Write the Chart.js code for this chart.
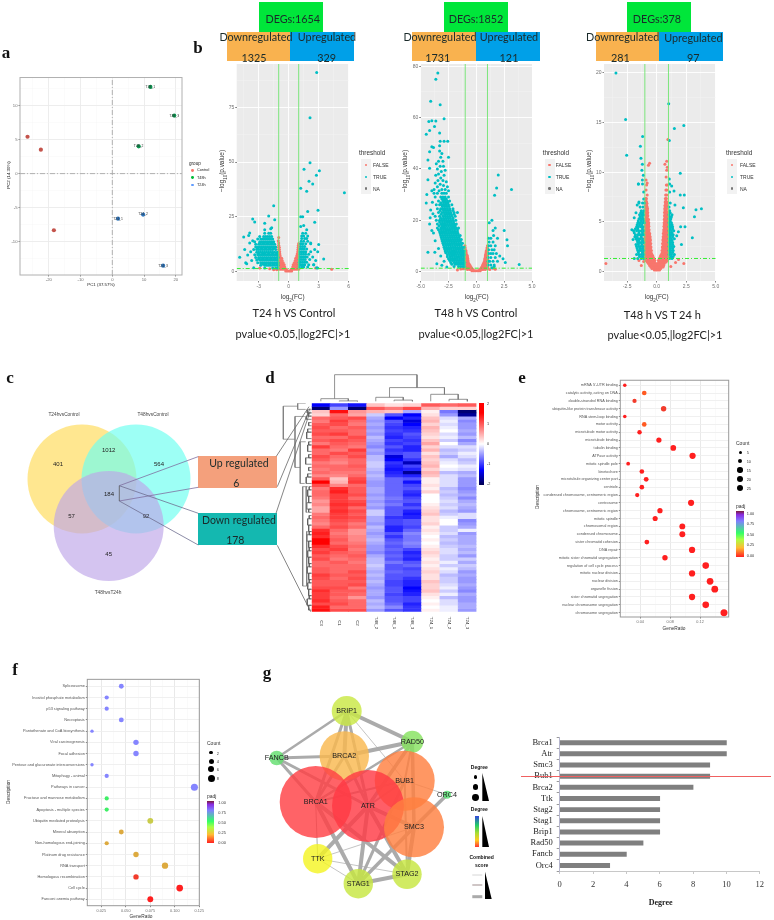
<!DOCTYPE html>
<html>
<head>
<meta charset="utf-8">
<script src="https://cdn.jsdelivr.net/npm/chart.js@4/dist/chart.umd.min.js"></script>
<style>
  html, body { margin: 0; padding: 0; background: #fff; }
  #page { position: relative; width: 774px; height: 920px; overflow: hidden; }
  #page canvas { position: absolute; }
  .t { position: absolute; white-space: nowrap; transform: translate(-50%, -50%); z-index: 6; }
  .b { position: absolute; z-index: 4; }
  sub { font-size: 70%; line-height: 0; }
</style>
</head>
<body>
<div id="page"></div>
<script>
const SANS = "'Liberation Sans', Arial, sans-serif";
const SERIF = "'Liberation Serif', serif";
const CAL = "Lato, 'Open Sans', sans-serif";

// a: PCA
const pcaControlX = [-26.7, -22.5, -18.4];
const pcaControlY = [5.4, 3.5, -8.3];
const pcaT48X = [12, 19.5, 8.3];
const pcaT48Y = [12.7, 8.5, 4];
const pcaT24X = [1.8, 9.7, 16];
const pcaT24Y = [-6.6, -6, -13.5];
const pcaT48Labels = ["T48_1", "T48_3", "T48_2"];
const pcaT24Labels = ["T24_1", "T24_2", "T24_3"];

// b: volcano, rows are [y, x, x, x...] for the dense clouds
const t24TrueRows = [
  [1.6,-2.4,-1.6,-1.3,-1.1],
  [2.8,-2.8,-2.4,-2.2,-2,-1.8,-1.6,-1.4,-1.2,-1.05],
  [3.4,-2.6,-2.3,-1.9,-1.5,-1.15],
  [4,-3.1,-2.8,-2.6,-2.4,-2.2,-2,-1.8,-1.6,-1.4,-1.2,-1.05],
  [5.2,-3.2,-2.9,-2.7,-2.5,-2.3,-2.1,-1.9,-1.7,-1.5,-1.3,-1.1],
  [5.8,-3,-2.6,-2.2,-1.8,-1.4],
  [6.4,-3.3,-3,-2.8,-2.6,-2.4,-2.2,-2,-1.8,-1.6,-1.4,-1.2,-1.05],
  [7.6,-3.4,-3.1,-2.9,-2.7,-2.5,-2.3,-2.1,-1.9,-1.7,-1.5,-1.3,-1.1],
  [8.2,-3,-2.6,-2.4,-2,-1.6,-1.2],
  [8.8,-3.2,-3,-2.8,-2.6,-2.4,-2.2,-2,-1.8,-1.6,-1.4,-1.15],
  [10,-3.5,-3.2,-3,-2.8,-2.6,-2.4,-2.2,-2,-1.8,-1.6,-1.3],
  [10.6,-3.1,-2.7,-2.3,-1.9,-1.5],
  [11.2,-3.3,-3.1,-2.9,-2.7,-2.5,-2.3,-2.1,-1.9,-1.7,-1.5,-1.3],
  [12.4,-3.3,-3,-2.8,-2.6,-2.4,-2.2,-2,-1.8,-1.6,-1.4],
  [13,-2.9,-2.5,-2.1,-1.7],
  [13.6,-3.4,-2.9,-2.7,-2.5,-2.3,-2.1,-1.9,-1.7,-1.5],
  [14.8,-3.1,-2.8,-2.6,-2.4,-2.2,-2,-1.8,-1.6],
  [16,-2.9,-2.5,-2.3,-2.1,-1.9,-1.7],
  [17.5,-2.4,-2,-1.8],
  [2,1.05,1.3,1.5,1.9],
  [3,1.05,1.2,1.4,1.6,2,2.5],
  [4.2,1.05,1.2,1.4,1.6,1.8],
  [5.4,1.05,1.25,1.45,1.65,2.1],
  [6.6,1.1,1.25,1.45,1.65,1.85,2.4],
  [7.8,1.1,1.3,1.5,1.7,2],
  [9,1.1,1.3,1.5,1.7,2.2],
  [10.2,1.15,1.35,1.55,1.8],
  [11.4,1.2,1.4,1.6],
  [12.6,1.2,1.4,1.7,2.2],
  [13.8,1.25,1.5,1.9],
  [15,1.3,1.6,1.8],
  [16.2,1.3,1.5,1.9],
  [17.5,1.4,1.7]
];
const t24TrueScatter = [[2.8,91],[2.13,70.3],[2.13,49.7],[1.53,46.7],[3.07,46],[2.77,44],[2.4,40],[2.03,41.3],[1.2,38],[1.8,36.7],[5.57,36],[2.93,28],[1.9,27.4],[1.2,25],[1.4,25],[2.6,22.5],[1.2,20.5],[1.5,21],[1.8,19],[3,12.3],[2.6,10],[2.2,13],[2.9,9],[3.5,5.7],[2.7,5],[2.5,3],[2.8,1.7],[2.9,1.6],[-1.5,30],[-2,25.4],[-3.6,24],[-3.4,22.6],[-2.4,22],[-1.4,23.6],[-4.5,15.7],[-3.9,17.6],[-4,16.4],[-3.9,13],[-3.6,14],[-4.4,10],[-3.8,9],[-4.1,7.5],[-3.7,5],[-4.3,4],[-4.9,6.5],[-4.2,3.5],[-3.5,1.7],[-1.7,20],[-2.4,19],[-1.8,19.5]];
const t24FalseRows = [
  [0.2,-0.3,-0.15,0,0.15,0.3],
  [1,-1,-0.8,-0.6,-0.4,-0.25,0.25,0.4,0.6,0.8,1],
  [2,-1,-0.8,-0.6,-0.4,0.4,0.6,0.8,1],
  [3,-1,-0.8,-0.6,-0.45,0.45,0.6,0.8,1],
  [4,-1,-0.85,-0.7,-0.55,0.55,0.7,0.85,1],
  [5,-1,-0.8,-0.65,0.65,0.8,1],
  [6,-1,-0.85,-0.7,0.7,0.85,1],
  [7,-1,-0.85,0.8,1],
  [8,-1,-0.88,0.85,1],
  [9,-1,-0.9,0.9,1],
  [10,-1,-0.93,0.92,1],
  [11,-1,-0.95,0.95,1],
  [12,-1,0.97]
];
const t24FalseScatter = [[4.3,1],[2.7,1.5],[-2.9,1.5],[-1.9,1.2],[-1.5,0.7],[-1.2,0.8],[-1,15.5],[-1.05,14],[1,12.8],[-1,13]];

const t48TrueRows = [
  [2,-2,-1.6,-1.4,-1.2,-1.05],
  [2.8,-2.2,-1.9,-1.7,-1.5,-1.3,-1.1],
  [3.5,-2.3,-2,-1.8,-1.6,-1.4,-1.2,-1.05],
  [4.3,-2.4,-2.15,-1.95,-1.75,-1.55,-1.35,-1.15],
  [5,-2.5,-2.3,-2.1,-1.9,-1.7,-1.5,-1.3,-1.1],
  [5.8,-2.6,-2.35,-2.15,-1.95,-1.75,-1.55,-1.35,-1.15],
  [6.5,-2.6,-2.4,-2.2,-2,-1.8,-1.6,-1.4,-1.2,-1.05],
  [7.3,-2.75,-2.5,-2.3,-2.1,-1.9,-1.7,-1.5,-1.3,-1.12],
  [8,-2.8,-2.6,-2.4,-2.2,-2,-1.8,-1.6,-1.4,-1.2,-1.05],
  [8.8,-2.85,-2.65,-2.45,-2.25,-2.05,-1.85,-1.65,-1.45,-1.25],
  [9.5,-2.9,-2.7,-2.5,-2.3,-2.1,-1.9,-1.7,-1.5,-1.3,-1.1],
  [10.3,-2.95,-2.75,-2.55,-2.35,-2.15,-1.95,-1.75,-1.55,-1.35],
  [11,-3,-2.8,-2.6,-2.4,-2.2,-2,-1.8,-1.6,-1.4,-1.25],
  [11.8,-3.05,-2.85,-2.65,-2.45,-2.25,-2.05,-1.85,-1.65,-1.45],
  [12.5,-3.1,-2.9,-2.7,-2.5,-2.3,-2.1,-1.9,-1.7,-1.5,-1.35],
  [13.3,-3.15,-2.95,-2.75,-2.55,-2.35,-2.15,-1.95,-1.75,-1.55],
  [14,-3.2,-3,-2.8,-2.6,-2.4,-2.2,-2,-1.8,-1.6,-1.45],
  [14.8,-3.25,-3.05,-2.85,-2.65,-2.45,-2.25,-2.05,-1.85,-1.65],
  [15.5,-3.3,-3.1,-2.9,-2.7,-2.5,-2.3,-2.1,-1.9,-1.7],
  [16.3,-3.4,-3.15,-2.95,-2.75,-2.55,-2.35,-2.15,-1.95,-1.7],
  [17,-3.5,-3.2,-3,-2.8,-2.6,-2.4,-2.2,-2,-1.8,-1.6],
  [17.8,-3.35,-3.1,-2.9,-2.7,-2.5,-2.3,-2.1,-1.9],
  [18.5,-3.5,-3.2,-3,-2.8,-2.6,-2.4,-2.2,-2,-1.8],
  [19.3,-3.3,-3.05,-2.85,-2.65,-2.45,-2.25,-2.05],
  [20,-3.6,-3.3,-3.1,-2.9,-2.7,-2.5,-2.3,-2.1,-1.85],
  [20.8,-3.2,-2.95,-2.75,-2.55,-2.35,-2.1],
  [21.5,-3.7,-3.3,-3,-2.8,-2.6,-2.4,-2.2,-1.9],
  [22.3,-3.15,-2.85,-2.65,-2.45,-2.25,-2],
  [23,-3.4,-3.1,-2.9,-2.7,-2.5,-2.3,-2,-1.7],
  [23.8,-3.25,-2.95,-2.75,-2.55,-2.35,-2.1],
  [24.5,-3.5,-3.2,-3,-2.8,-2.6,-2.4,-2.1],
  [25.3,-3.05,-2.85,-2.65,-2.45],
  [26,-3.6,-3.3,-3.1,-2.9,-2.7,-2.5,-2.2],
  [26.8,-3.2,-2.95,-2.75,-2.55],
  [27.5,-3.4,-3,-2.8,-2.6,-2.4],
  [28.3,-3.1,-2.9,-2.7],
  [29,-3.7,-3.2,-3,-2.8,-2.5],
  [30.5,-3.8,-3.5,-3.1,-2.9,-2.7],
  [2.5,1.05,1.3,1.6],
  [4,1.05,1.2,1.5,1.9],
  [5.5,1.05,1.3,1.7],
  [7,1.1,1.3,1.5,1.8],
  [8.5,1.1,1.4,1.6],
  [10,1.1,1.3,1.7],
  [11.5,1.15,1.5],
  [13,1.1,1.3]
];
const t48TrueScatter = [[-3.46,77.4],[-3.64,75],[-4.1,66.4],[-3.25,65],[-2.9,59.6],[-4,58.8],[-4.27,58.5],[-3.64,58.7],[-3.76,56.5],[-4.2,55],[-4.5,53.5],[-3.3,54],[-3.25,50.8],[-2.9,50.8],[-2.57,50.8],[-4,48.6],[-3.85,48.3],[-3.3,49],[-4.2,46.7],[-4.35,43.5],[-4.2,40.3],[-2.5,44.5],[-4.45,30],[-4.5,26.7],[-4.35,35.8],[-4.15,21],[-4,16],[-4.35,7.5],[-3.73,7.5],[-3.55,3],[-3.1,2.4],[-2.65,1.8],
  [-3.3,47],[-3.1,46],[-3.2,44.5],[-3,43],[-3.4,43],[-3.6,42],[-3.25,41],[-2.95,41],[-3.5,40],[-2.8,39.5],[-3.15,39],[-3.4,38],[-3.65,37.5],[-2.9,37.5],[-3.2,36.5],[-3,35.5],[-3.45,35.5],[-2.7,35],[-3.7,34.5],[-3.25,34],[-2.95,33.5],[-2.6,33],[-3.5,33],[-3.8,32],[-3.1,32],[-2.8,32],[-3.35,31.5],[-4,31.5],[-2.5,31.5],[-3.95,27],[-4.1,24],[-3.9,22.5],[-4.2,18.5],[-3.85,15],[-3.7,12],[-3.4,9],[-3.2,6],[-2.9,4],
  [1.97,37.6],[1.82,32.6],[3.16,32],[1.64,29.7],[1.4,20],[1.16,19],[2.5,16],[2.75,12.4],[2.8,10],[3.85,2.7],[1.7,17],[1.5,16],[1.55,14],[1.9,13],[2.1,6],[2.4,5],[2.6,3.5],[1.6,2],[1.4,1.5]];
const t48FalseRows = [
  [0.3,-0.4,-0.25,-0.1,0.05,0.2,0.35],
  [0.8,-0.8,-0.6,-0.45,-0.3,0.3,0.45,0.6,0.8],
  [1.2,-1,-0.85,-0.7,-0.55,-0.4,0.4,0.55,0.7,0.85,1],
  [1.7,-1,-0.9,-0.75,-0.6,-0.47,0.47,0.6,0.75,0.9,1],
  [2.2,-1,-0.85,-0.7,-0.55,0.55,0.7,0.85,1],
  [2.7,-1,-0.9,-0.75,-0.62,0.6,0.72,0.9,1],
  [3.2,-1,-0.85,-0.7,0.65,0.8,1],
  [3.7,-1,-0.9,-0.75,0.7,0.83,0.95],
  [4.2,-1,-0.87,-0.75,0.75,0.88,1],
  [4.7,-1,-0.9,-0.78,0.76,0.9,1],
  [5.2,-1,-0.88,-0.78,0.78,0.9,1],
  [5.7,-1,-0.9,-0.8,0.8,0.92,1],
  [6.2,-1,-0.9,-0.82,0.82,0.92,1],
  [6.7,-1,-0.9,0.85,0.95],
  [7.2,-1,-0.92,0.87,0.96],
  [7.7,-1,-0.93,0.88,0.98],
  [8.2,-1,-0.94,0.9,1],
  [9.2,-1,0.95,1],
  [10,-1.02,1]
];
const t48FalseScatter = [[-1.7,0.6],[-1.4,1],[-1.2,1.1],[1.2,0.8],[1.5,1.3],[1.7,0.9]];

const t48vsT24TrueRows = [
  [1.3,-1.9,-1.6,-1.3,-1.1,1.1,1.3],
  [1.5,-1.45,-1.2,1.2,1.4],
  [1.7,-1.7,-1.5,-1.3,-1.1,1.05,1.25,1.5],
  [1.9,-1.55,-1.2,1.15,1.35],
  [2.1,-1.6,-1.45,-1.3,-1.1,1.05,1.2,1.4],
  [2.3,-1.65,-1.4,-1.2,1.15,1.35],
  [2.5,-1.7,-1.5,-1.35,-1.15,1.05,1.25,1.45],
  [2.7,-1.75,-1.55,-1.25,1.15,1.35],
  [2.9,-1.6,-1.45,-1.3,-1.1,1.05,1.2,1.35],
  [3.1,-1.65,-1.5,-1.2,1.1,1.3],
  [3.3,-1.75,-1.55,-1.4,-1.2,1.05,1.25,1.5],
  [3.5,-1.85,-1.65,-1.3,1.15,1.35],
  [3.7,-1.8,-1.6,-1.4,-1.25,-1.1,1.05,1.2,1.4],
  [3.9,-1.9,-1.5,-1.2,1.1,1.3],
  [4.1,-1.95,-1.7,-1.5,-1.3,-1.1,1.05,1.25,1.45],
  [4.3,-1.8,-1.6,-1.2,1.15,1.35],
  [4.5,-1.7,-1.55,-1.35,-1.15,1.05,1.2,1.35],
  [4.7,-1.65,-1.45,-1.25,1.1,1.3],
  [4.9,-1.6,-1.4,-1.2,-1.05,1.05,1.25],
  [5.1,-1.55,-1.3,-1.1,1.15],
  [5.3,-1.5,-1.3,-1.15,1.05,1.2],
  [5.5,-1.4,-1.2,1.1,1.25],
  [5.7,-1.45,-1.25,-1.1,1.05,1.3],
  [5.9,-1.35,-1.15,1.15],
  [6.1,-1.3,-1.1,1.1],
  [6.5,-1.4,-1.15,1.05],
  [6.9,-1.5,-1.2,-1.05,1.15],
  [7.3,-1.1],
  [8,-1.1,1.1],
  [8.8,-1.55,-1.2,1.1]
];
const t48vsT24TrueScatter = [[-3.45,20],[-2.63,15.3],[-2.54,11.7],[-1.19,13.6],[-1.38,12.6],[-1.33,11.4],[1.02,16.9],[1.07,13.2],[1.5,14.4],[2.3,14.7],[2,9.9],[1.07,9.3],[2,7.7],[2.34,7.7],[3.33,6.2],[3.79,6.3],[3.2,5.5],[2.26,6.4],[3.02,3.4],[2.1,2.7],[2.03,4.5],[2.4,4.5],[1.84,4],[1.7,3.6],[1.55,6.7],[1.47,8.1],[1.27,8.6],[-1.55,8.8],[-1.21,9.2],[-1.13,9.7],[-1.21,10.8],[-1.25,10.2],[-2.1,4.2],[-2.0,3.2],[-1.9,5.4],[-1.75,5.9],[-1.65,6.7],[-1.5,7]];
const t48vsT24FalseRows = [
  [0.15,-0.2,-0.05,0.1,0.25],
  [0.3,-0.4,-0.25,-0.1,0.05,0.2,0.35],
  [0.45,-0.5,-0.35,-0.2,-0.05,0.1,0.25,0.4,0.55],
  [0.6,-0.6,-0.45,-0.3,-0.15,0,0.15,0.3,0.45,0.6],
  [0.8,-0.7,-0.55,-0.4,-0.25,-0.1,0.05,0.2,0.35,0.5,0.65],
  [0.95,-0.8,-0.65,-0.5,-0.35,-0.2,0.2,0.35,0.5,0.65,0.8],
  [1.1,-0.9,-0.75,-0.6,-0.45,-0.3,-0.15,0.15,0.3,0.45,0.6,0.75,0.9],
  [1.25,-0.95,-0.8,-0.65,-0.5,-0.35,-0.22,0.22,0.35,0.5,0.65,0.8,0.95],
  [1.4,-1,-0.85,-0.7,-0.55,-0.4,-0.28,0.28,0.4,0.55,0.7,0.85,1],
  [1.6,-1,-0.9,-0.75,-0.6,-0.46,-0.34,0.34,0.46,0.6,0.75,0.9,1],
  [1.75,-1,-0.85,-0.7,-0.55,-0.42,0.42,0.55,0.7,0.85,1],
  [1.9,-1,-0.9,-0.77,-0.62,-0.48,0.48,0.62,0.77,0.9,1],
  [2.1,-1,-0.85,-0.72,-0.58,-0.45,0.45,0.58,0.72,0.85,1],
  [2.3,-1,-0.9,-0.78,-0.65,-0.52,0.52,0.65,0.78,0.9,1],
  [2.45,-1,-0.87,-0.74,-0.6,-0.48,0.48,0.6,0.74,0.87,1],
  [2.65,-1,-0.92,-0.8,-0.68,-0.55,0.55,0.68,0.8,0.92,1],
  [2.8,-1,-0.87,-0.75,-0.62,-0.5,0.5,0.62,0.75,0.87,1],
  [3,-1,-0.92,-0.8,-0.68,-0.57,0.57,0.68,0.8,0.92,1],
  [3.15,-0.98,-0.85,-0.73,-0.62,-0.52,0.52,0.62,0.73,0.85,0.98],
  [3.35,-1,-0.9,-0.8,-0.68,-0.58,0.58,0.68,0.8,0.9,1],
  [3.5,-0.98,-0.86,-0.74,-0.63,-0.55,0.55,0.63,0.74,0.86,0.98],
  [3.7,-1,-0.92,-0.8,-0.68,-0.6,0.6,0.7,0.8,0.92],
  [3.85,-0.97,-0.85,-0.74,-0.6,0.57,0.66,0.76,0.86,0.96],
  [4.05,-1,-0.9,-0.8,-0.68,0.62,0.72,0.82,0.93],
  [4.2,-0.97,-0.86,-0.75,-0.64,0.6,0.68,0.78,0.88,0.98],
  [4.4,-0.92,-0.8,-0.7,0.65,0.74,0.84,0.94],
  [4.55,-0.96,-0.85,-0.74,-0.66,0.62,0.7,0.8,0.9],
  [4.75,-0.92,-0.8,-0.7,0.66,0.76,0.86,0.96],
  [4.9,-0.95,-0.85,-0.75,-0.67,0.63,0.72,0.82,0.92],
  [5.1,-0.9,-0.8,-0.72,0.68,0.78,0.88],
  [5.25,-0.95,-0.85,-0.76,-0.7,0.65,0.73,0.82,0.92],
  [5.4,-0.9,-0.8,0.7,0.78,0.88],
  [5.6,-0.93,-0.84,-0.75,0.66,0.74,0.84,0.94],
  [5.8,-0.88,-0.78,0.7,0.8,0.9],
  [5.95,-0.93,-0.85,-0.77,0.67,0.75,0.85,0.93],
  [6.15,-0.88,-0.8,0.72,0.8],
  [6.3,-0.92,-0.84,-0.77,0.68,0.75,0.84],
  [6.5,-0.88,-0.8,0.72,0.82],
  [6.65,-0.93,-0.85,0.7,0.77,0.86],
  [6.85,-0.9,-0.82,0.76,0.84],
  [7,-0.95,-0.85,0.72,0.8,0.88],
  [7.2,-0.9,0.78],
  [7.35,-0.95,-0.87,0.74,0.82],
  [7.7,-0.8,0.76,0.85],
  [8.2,-0.9,0.78,0.86],
  [8.7,-0.85,0.82,0.9]
];
const t48vsT24FalseScatter = [[-4.3,0.8],[2.3,0.8],[1.6,0.9],[-1.1,1],[-1.3,0.6],[1.85,1.2],[-0.6,10.9],[-0.7,10.7],[0.7,10.8],[0.85,11.1],[0.9,10.5],[0.85,10.2],[0.95,13.3],[-0.9,9.2],[-0.8,8.9],[0.8,9.5],[1.2,0.5],[-1.5,1.1]];

// c: venn
const vennX = [82, 136, 108.7];
const vennY = [479, 479, 526];
const vennR = [54.5, 54.5, 55];
const vennCounts = ["401", "1012", "564", "184", "57", "92", "45"];
const vennCountX = [58, 108.7, 159, 109, 71.5, 146, 108.7];
const vennCountY = [464.7, 450.7, 464.7, 494.7, 516.7, 516.7, 554.7];

// d: heatmap, z values by row
const heatColumns = ["C3", "C1", "C2", "T48_2", "T48_1", "T48_3", "T24_1", "T24_2", "T24_3"];
const heatRows = [
  [-1.5,-1.1,-1.4,0.4,0.2,0.3,1.1,1,1.1],
  [-1.9,-0.6,-1.9,1.1,0.9,1.2,0.5,0.3,0.3],
  [0.4,1.6,0.7,0.5,0.4,-0.5,0.1,-0.8,-1.9],
  [0.3,1,0.6,-0.3,-1,-1.5,0.2,-0.6,-1.8],
  [1,1.1,1.2,-0.5,-1.5,-1.3,0.4,-0.2,-0.5],
  [0.9,1.3,1,-0.6,-1,-1.6,0.5,-0.1,-0.7],
  [1.1,1.2,0.9,-0.5,-1.1,-1.5,0.3,-0.2,-0.6],
  [1.2,1,1.1,-0.6,-1.2,-1.3,0.5,-0.1,-0.6],
  [1.1,1.1,1,-0.5,-1.1,-1.2,0.4,0,-0.5],
  [1.2,1.3,1,-0.6,-1.2,-1,0.3,-0.2,-0.6],
  [1,1,1.2,-0.4,-1.3,-1.1,0.2,-0.1,-0.4],
  [1.1,1.2,1.1,-0.5,-1.1,-1.2,0.4,-0.3,-0.7],
  [0.9,1.1,1,-0.6,-1.2,-1.1,0.6,0,-0.5],
  [1.3,1,0.9,-0.7,-1,-1.3,0.3,-0.2,-0.2],
  [1,0.9,1.3,-0.5,-1.2,-1.3,0.5,-0.4,-0.3],
  [1,1.2,1.1,-0.6,-1.1,-1,0.2,-0.3,-0.1],
  [1.2,1,1.2,-0.4,-1.6,-1,0.4,-0.5,-0.2],
  [1.1,0.9,1,-0.4,-1.5,-1.2,0.3,-0.2,-0.4],
  [0.9,0.8,1,-0.3,-1.2,-1.7,0.4,-0.1,-0.3],
  [1,1,1.1,-0.3,-1.3,-1.1,0.5,0,-0.1],
  [0.9,1,1,-0.4,-1.4,-1.3,0.3,-0.1,-0.2],
  [1,0.9,0.9,-0.5,-1.3,-1.8,0.5,-0.4,-0.5],
  [0.8,0.8,1,-0.4,-1.2,-1.3,0.4,-0.2,-0.4],
  [1.1,0.4,1.2,-0.5,-0.9,-1,0.1,-0.2,-0.6],
  [2,0.5,1.3,-0.6,-0.9,-1.4,0.1,-0.2,-0.6],
  [1.2,0.8,1,-0.6,-0.9,-1.1,0.2,-0.2,-0.6],
  [0.9,1.4,1.1,-0.5,-0.9,-1,0.1,-0.4,-0.7],
  [1,1.5,1.1,-0.5,-0.9,-1.2,0.3,-0.3,-0.6],
  [1,1.3,1.2,-0.6,-0.9,-1.3,0,-0.4,-0.5],
  [0.9,1.3,1,-0.5,-0.8,-1.1,0,-0.3,-0.7],
  [0.7,1.3,1.2,-0.6,-0.9,-1,0,-0.2,-0.5],
  [0.8,1.4,1.3,-0.5,-0.8,-1.2,0.1,-0.3,-0.4],
  [0.6,1.3,1,-0.6,-1,-1,0.2,-0.2,-0.5],
  [0.6,1.4,1.2,-0.3,-1,-1.3,0.3,-0.4,-0.6],
  [0.9,1.3,1.1,-0.3,-1,-1.4,0.4,-0.3,-0.2],
  [1,1.3,1.2,-0.5,-1.2,-1.3,0.2,-0.1,-0.2],
  [0.9,1.2,1.1,-0.5,-1.1,-1,0.2,0,-0.7],
  [0.8,1.1,0.9,-0.6,-1.1,-1,0.3,0,-0.6],
  [1,1.2,1,-0.4,-1.3,-1.1,0.1,-0.3,-0.5],
  [1.4,1,0.7,-0.5,-1.3,-0.9,0.2,-0.3,-0.1],
  [1.5,0.9,0.7,-0.6,-1,-0.7,0.1,-0.2,-0.6],
  [1.4,1,0.8,-0.5,-1.2,-0.8,0,-0.4,-0.5],
  [1.7,1.1,0.8,-0.4,-1,-0.8,0.1,-0.3,-0.5],
  [1.8,1,0.9,-0.5,-0.9,-0.7,0,-0.4,-0.5],
  [1.4,1.2,1,-0.6,-1,-0.8,0.1,-0.3,-0.4],
  [1.2,1.3,0.9,-0.6,-0.9,-1.1,0.2,-0.2,-0.5],
  [1.3,1.1,1,-0.7,-1,-1.3,0.3,-0.2,-0.4],
  [1.1,1,1.1,-0.5,-0.9,-1.2,0.2,-0.3,-0.6],
  [1.2,0.9,1,-0.4,-1,-1.3,0.1,-0.3,-0.3],
  [1,1.1,0.9,-0.4,-0.8,-1,0.2,-0.1,-0.5],
  [1,1,1,-0.3,-1,-0.9,0.1,-0.3,-0.3],
  [1.1,1,1,-0.4,-1,-1.1,0.2,-0.1,-0.4],
  [1.1,1,1.2,-0.5,-0.9,-1,0.3,-0.2,-0.6],
  [1.3,1.1,1.1,-0.4,-1,-1,0.2,-0.4,-0.5],
  [1.2,1,1.2,-0.5,-1,-1.2,0.2,-0.3,-0.6],
  [1.1,1.1,1.1,-0.4,-1.1,-1.3,0.4,-0.3,-0.6],
  [1.1,1.1,1.2,-0.5,-1.1,-1.3,0.3,-0.2,-0.5],
  [1.2,1.2,0.9,-0.6,-1,-1.5,0.3,-0.1,-0.6],
  [1.4,1.1,1.1,-0.5,-1,-1.4,0.4,-0.3,-0.7],
  [1.3,1.1,1,-0.5,-1.1,-1.3,0.2,-0.1,-0.5],
  [1.3,1,0.7,-0.6,-1,-1.1,0.1,-0.4,-0.6],
  [1.4,1.1,1,-0.4,-1,-1.1,0,-0.2,-0.6],
  [1.2,1.2,1,-0.5,-0.9,-1.3,0.1,-0.2,-0.5],
  [1.5,1,1,-0.4,-0.7,-1.2,0,-0.1,-0.5],
  [1.6,1.2,1.2,-0.6,-1,-1.2,0.1,-0.1,-0.6]
];
// merges: [left column, right column, left height, right height, height]
const heatTopMerges = [
  [1.5,2.5,2,2,2.4],[0.5,2,2,2.4,4.6],
  [4.5,5.5,2,2,3.2],[3.5,5,2,3.2,6],
  [7.5,8.5,2,2,4],[6.5,8,2,4,9],
  [4.25,7.25,6,9,15.7],[1.25,5.75,4.6,15.7,28.6]
];
// merges on rows: [top row, bottom row, top depth, bottom depth, depth]
const heatLeftMerges = [
  [0.9,11.2,14,16.7,28.4],[0,1.9,6,6,14],[4.1,20,7,11.5,16.7],[12,25,6,7,11.5],[26,57,5,5,9],[26,34,4,4,5.5],[40,57,4,3,5]
];
const heatLeftComb = [[2,3,4.5],[3,4,3.5],[4,5,5.5],[6,7,3],[8,9,4],[9,11,5],[12,13,3],[13,15,4],[16,17,3],[17,19,6],[20,21,3],[22,23,4],[23,25,5.5],[26,27,2.5],[27,29,4],[29,31,3],[31,33,5],[33,34,3],[35,36,2.5],[36,38,4],[38,40,3],[40,41,2.5],[41,43,5],[43,45,3],[45,46,2.5],[46,48,4],[48,50,3],[50,51,2.5],[51,53,4.5],[53,55,3],[55,56,2.5],[56,58,4],[58,60,3],[60,61,2.5],[61,63,4.5],[63,64.5,3]];

// e: GO
const goTerms = ["mRNA 5'-UTR binding","catalytic activity, acting on DNA","double-stranded RNA binding","ubiquitin-like protein transferase activity","RNA stem-loop binding","motor activity","microtubule motor activity","microtubule binding","tubulin binding","ATPase activity","mitotic spindle pole","kinetochore","microtubule organizing center part","centriole","condensed chromosome, centromeric region","centrosome","chromosome, centromeric region","mitotic spindle","chromosomal region","condensed chromosome","sister chromatid cohesion","DNA repair","mitotic sister chromatid segregation","regulation of cell cycle process","mitotic nuclear division","nuclear division","organelle fission","sister chromatid segregation","nuclear chromosome segregation","chromosome segregation"];
const goRatio = [0.0194,0.0454,0.0324,0.0713,0.0194,0.0454,0.0391,0.065,0.0842,0.11,0.0239,0.0422,0.048,0.0422,0.036,0.108,0.0664,0.06,0.0963,0.0963,0.0489,0.1093,0.0731,0.1276,0.1093,0.1334,0.1397,0.1093,0.1276,0.152];
const goCount = [3,8,6,13,3,8,7,12,15,20,4,8,9,8,6,19,12,11,17,17,9,20,13,23,20,24,25,20,23,27];
const goPadj = [0.02,0.1,0.04,0.05,0.02,0.1,0,0,0,0,0.02,0,0.02,0,0,0.01,0,0,0,0,0,0,0,0,0,0,0,0,0,0];

// f: KEGG
const keggTerms = ["Spliceosome","Inositol phosphate metabolism","p53 signaling pathway","Necroptosis","Pantothenate and CoA biosynthesis","Viral carcinogenesis","Focal adhesion","Pentose and glucuronate interconversions","Mitophagy - animal","Pathways in cancer","Fructose and mannose metabolism","Apoptosis - multiple species","Ubiquitin mediated proteolysis","Mineral absorption","Non-homologous end-joining","Platinum drug resistance","RNA transport","Homologous recombination","Cell cycle","Fanconi anemia pathway"];
const keggRatio = [0.0454,0.0305,0.0305,0.0454,0.0155,0.0604,0.0604,0.0155,0.0305,0.12,0.0305,0.0305,0.075,0.0454,0.0305,0.0604,0.09,0.0604,0.105,0.075];
const keggCount = [3,2,2,3,1,4,4,1,2,8,2,2,5,3,2,4,6,4,7,5];
const keggPadj = [0.8,0.8,0.8,0.8,0.8,0.8,0.8,0.8,0.8,0.8,0.55,0.55,0.3,0.2,0.2,0.2,0.2,0.05,0.02,0.02];

// g: network
const nodeNames = ["BRIP1","RAD50","FANCB","BRCA2","BUB1","ORC4","BRCA1","ATR","SMC3","TTK","STAG1","STAG2"];
const nodeX = [346.7,412.3,276.7,344.3,404.7,447,315.7,368,414,317.7,358.3,407];
const nodeY = [711,741.7,758,756,780.7,794.7,802,806,827.3,858.7,883.7,874.3];
const nodeR = [15,11,7.3,24.7,30,4,36,36,30,14.7,14.7,14.7];
const nodeColors = ["#C9E843","#86E25E","#62DE6E","#F9B84E","#FF8040","#55E070","#FF4045","#FF3A45","#FF8040","#F4F424","#C6E640","#C6E640"];
const edges = [
  ["BRIP1","RAD50",4],["BRIP1","FANCB",2.5],["BRIP1","BRCA2",4],["BRIP1","BRCA1",3],["BRIP1","ATR",3],["BRIP1","BUB1",0.7],
  ["FANCB","BRCA2",3],["FANCB","BRCA1",3],["FANCB","ATR",3],["RAD50","BRCA2",4],["RAD50","BRCA1",2.5],["RAD50","ATR",3.5],
  ["RAD50","BUB1",2],["RAD50","SMC3",3.5],["BRCA2","BRCA1",3],["BRCA2","ATR",3],["BUB1","ATR",2],["BUB1","BRCA1",2],
  ["SMC3","ATR",4],["ORC4","SMC3",3.5],["ORC4","BUB1",0.7],["TTK","BRCA1",1],["TTK","ATR",4],["TTK","STAG1",0.7],
  ["TTK","STAG2",0.7],["TTK","SMC3",0.7],["STAG1","BRCA1",4],["STAG1","ATR",4],["STAG1","SMC3",3.5],["STAG1","STAG2",4],
  ["STAG2","BRCA1",4],["STAG2","ATR",4],["STAG2","SMC3",4],["STAG1","BUB1",3],["STAG2","BUB1",2]
];

// g: degree bars
const degreeGenes = ["Brca1","Atr","Smc3","Bub1","Brca2","Ttk","Stag2","Stag1","Brip1","Rad50","Fancb","Orc4"];
const degreeValues = [10,10,9,9,8,6,6,6,6,5,4,3];

const page = document.getElementById("page");

function txt(s, x, y, o = {}) {
  const d = document.createElement("div");
  d.className = "t";
  d.innerHTML = s;
  d.style.left = x + "px";
  d.style.top = y + "px";
  d.style.font = `${o.weight || "normal"} ${o.size || 6}px ${o.font || SANS}`;
  d.style.color = o.color || "#222";
  if (o.left) d.style.transform = "translate(0,-50%)";
  if (o.rot) d.style.transform = `translate(-50%,-50%) rotate(${o.rot}deg)`;
  page.appendChild(d);
}

function rect(x0, y0, x1, y1, bg) {
  const d = document.createElement("div");
  d.className = "b";
  d.style.cssText = `left:${x0}px;top:${y0}px;width:${x1 - x0}px;height:${y1 - y0}px;background:${bg}`;
  page.appendChild(d);
}

function dot(x, y, r, c) {
  const d = document.createElement("div");
  d.className = "b";
  d.style.cssText = `left:${x - r}px;top:${y - r}px;width:${2 * r}px;height:${2 * r}px;border-radius:50%;background:${c}`;
  page.appendChild(d);
}

// lay the canvas out so the plot area lands on r, with m room for the axes
function plot(r, m, cfg) {
  const L = Math.floor(r.l - (m.l || 0)), T = Math.floor(r.t - (m.t || 0));
  const W = Math.ceil(r.r + (m.r || 0)) - L, H = Math.ceil(r.b + (m.b || 0)) - T;
  const c = document.createElement("canvas");
  c.width = W; c.height = H;
  c.style.left = L + "px"; c.style.top = T + "px";
  c.style.width = W + "px"; c.style.height = H + "px";
  page.appendChild(c);
  const o = cfg.options;
  o.responsive = false;
  o.animation = false;
  o.events = [];
  o.layout = { autoPadding: false, padding: { left: 0, top: r.t - T, right: L + W - r.r, bottom: 0 } };
  o.plugins = { legend: { display: false }, tooltip: { enabled: false }, title: { display: false } };
  const xs = o.scales.x, ys = o.scales.y;
  if (xs.display !== false) xs.afterFit = s => { s.height = T + H - r.b; };
  else o.layout.padding.bottom = T + H - r.b;
  if (ys.display !== false) ys.afterFit = s => { s.width = r.l - L; };
  else o.layout.padding.left = r.l - L;
  return new Chart(c.getContext("2d"), cfg);
}

function axis(min, max, step, major, fmt, opt = {}) {
  const isMaj = v => Math.abs(v / major - Math.round(v / major)) < 1e-6;
  return {
    type: "linear", min, max, reverse: !!opt.reverse,
    border: { display: false },
    ticks: {
      stepSize: step, includeBounds: false, autoSkip: false, maxRotation: 0, padding: opt.pad === undefined ? 1 : opt.pad,
      font: { size: opt.size || 5, family: SANS }, color: opt.color || "#6f6f6f",
      callback: v => isMaj(v) ? fmt(v) : ""
    },
    grid: {
      tickLength: 1.5,
      color: c => isMaj(c.tick.value) ? opt.major : opt.minor,
      lineWidth: c => isMaj(c.tick.value) ? (opt.majorW || 0.9) : 0.4,
      tickColor: c => isMaj(c.tick.value) ? "#777" : "rgba(0,0,0,0)"
    }
  };
}

const panelBg = col => ({ id: "panelBg", beforeDraw(c) {
  const a = c.chartArea;
  c.ctx.fillStyle = col;
  c.ctx.fillRect(a.left, a.top, a.right - a.left, a.bottom - a.top);
}});
const frame = (col, w) => ({ id: "frame", afterDatasetsDraw(c) {
  const a = c.chartArea;
  c.ctx.strokeStyle = col;
  c.ctx.lineWidth = w;
  c.ctx.strokeRect(a.left, a.top, a.right - a.left, a.bottom - a.top);
}});
// text tied to data values
const dataText = (items, font, color) => ({ id: "dataText", afterDatasetsDraw(c) {
  const g = c.ctx;
  g.save();
  g.font = font; g.fillStyle = color; g.textAlign = "center"; g.textBaseline = "middle";
  items.forEach(i => g.fillText(i.t, c.scales.x.getPixelForValue(i.x), c.scales.y.getPixelForValue(i.y)));
  g.restore();
}});

const zip = (xs, ys) => xs.map((x, i) => ({ x, y: ys[i] }));
const fromRows = rows => rows.flatMap(r => r.slice(1).map(x => ({ x, y: r[0] })));
const fromPairs = ps => ps.map(p => ({ x: p[0], y: p[1] }));
const pts = (data, color, r, order) => ({ type: "scatter", data, backgroundColor: color, borderWidth: 0, pointRadius: r, order });
const seg = (data, color, w, dash, order) => ({ type: "line", data, borderColor: color, borderWidth: w, borderDash: dash || [], pointRadius: 0, order, spanGaps: false, tension: 0 });

/* ========== a: PCA ========== */
const pcaRect = { l: 20, t: 75, r: 182, b: 275 };
plot(pcaRect, { l: 12, b: 8, t: 1, r: 5 }, {
  type: "scatter",
  data: { datasets: [
    pts(zip(pcaControlX, pcaControlY), "#C4544C", 2.1, 1),
    pts(zip(pcaT48X, pcaT48Y), "#06994F", 2.1, 1),
    pts(zip(pcaT24X, pcaT24Y), "#2C74BC", 2.1, 1),
    seg([{ x: 0, y: -14.86 }, { x: 0, y: 14.08 }], "#aaa", 0.9, [5, 2, 1, 2], 3),
    seg([{ x: -29.07, y: 0 }, { x: 21.95, y: 0 }], "#aaa", 0.9, [5, 2, 1, 2], 3)
  ]},
  options: { scales: {
    x: axis(-29.07, 21.95, 5, 10, v => v, { size: 4.2, major: "#ebebeb", minor: "#f5f5f5" }),
    y: axis(-14.86, 14.08, 2.5, 5, v => v, { size: 4.2, major: "#ebebeb", minor: "#f5f5f5" })
  }},
  plugins: [
    frame("#b0b0b0", 1),
    dataText(
      zip(pcaT48X, pcaT48Y).map((p, i) => ({ x: p.x, y: p.y, t: pcaT48Labels[i] }))
        .concat(zip(pcaT24X, pcaT24Y).map((p, i) => ({ x: p.x, y: p.y, t: pcaT24Labels[i] }))),
      `3.4px ${SANS}`, "#333")
  ]
});
txt("PC1 (37.57%)", 101, 283.7, { size: 4.4 });
txt("PC2 (14.30%)", 8, 175, { size: 4.4, rot: -90 });
txt("group", 189, 163.3, { size: 4.6, left: true });
[["Control", "#F8766D", 170.3], ["T48h", "#00BA38", 177.7], ["T24h", "#619CFF", 185]].forEach(k => {
  dot(192.3, k[2], 1.4, k[1]);
  txt(k[0], 197, k[2], { size: 3.8, left: true });
});

/* ========== b: volcano plots ========== */
function volcano(r, xr, yr, trueRows, trueScatter, falseRows, falseScatter, fmtX) {
  const xAxis = axis(xr[0], xr[1], xr[2], xr[3], fmtX, { major: "#fff", minor: "#f6f6f6" });
  const yAxis = axis(yr[0], yr[1], yr[2], yr[3], v => v, { major: "#fff", minor: "#f6f6f6" });
  plot(r, { l: 14, b: 10, t: 1, r: 6 }, {
    type: "scatter",
    data: { datasets: [
      seg([{ x: -1, y: yr[0] }, { x: -1, y: yr[1] }], "#6FE46F", 0.9, null, 1),
      seg([{ x: 1, y: yr[0] }, { x: 1, y: yr[1] }], "#6FE46F", 0.9, null, 1),
      seg([{ x: xr[0], y: 1.3 }, { x: xr[1], y: 1.3 }], "#33EE33", 1, [4, 2, 1, 2], 1),
      pts(fromRows(trueRows).concat(fromPairs(trueScatter)), "#00BFC4", 1.5, 2),
      pts(fromRows(falseRows).concat(fromPairs(falseScatter)), "#F8766D", 1.5, 3)
    ]},
    options: { scales: { x: xAxis, y: yAxis } },
    plugins: [panelBg("#EBEBEB")]
  });
}
const oneDec = v => v.toFixed(1);
volcano({ l: 236.7, t: 61, r: 349, b: 281 }, [-5.2, 6.03, 1.5, 3], [-4.4, 94.9, 12.5, 25], t24TrueRows, t24TrueScatter, t24FalseRows, t24FalseScatter, v => v);
volcano({ l: 420.7, t: 61, r: 532, b: 281 }, [-5, 5, 1.25, 2.5], [-3.7, 80.9, 10, 20], t48TrueRows, t48TrueScatter, t48FalseRows, t48FalseScatter, oneDec);
volcano({ l: 604, t: 61, r: 715.7, b: 281 }, [-4.46, 5, 1.25, 2.5], [-0.97, 20.9, 2.5, 5], t48vsT24TrueRows, t48vsT24TrueScatter, t48vsT24FalseRows, t48vsT24FalseScatter, oneDec);

function topBoxes(g0, g1, o0, mid, b1) {
  rect(g0, 2, g1, 32, "#00E63A");
  rect(o0, 32, mid, 60.7, "#F9B24F");
  rect(mid, 32, b1, 60.7, "#00A0E8");
}
topBoxes(259, 322.7, 227, 290, 354);
topBoxes(444.3, 508, 412.3, 476, 539.7);
topBoxes(627.3, 691, 595.7, 659, 722.7);

const calText = { size: 10.8, font: CAL, color: "#1a2a2a" };
txt("DEGs:1654", 292.7, 18, calText);
txt("Downregulated", 256, 36, calText);
txt("Upregulated", 327, 36, calText);
txt("1325", 254, 56.7, calText);
txt("329", 326.7, 56.7, calText);
txt("DEGs:1852", 476, 17.7, calText);
txt("Downregulated", 440, 36, calText);
txt("Upregulated", 509, 36, calText);
txt("1731", 437.7, 56.7, calText);
txt("121", 509, 56.7, calText);
txt("DEGs:378", 657, 17.7, calText);
txt("Downregulated", 622.7, 36, calText);
txt("Upregulated", 693.3, 37, calText);
txt("281", 620.3, 56.7, calText);
txt("97", 693.3, 57, calText);

[[292.7, 221.7], [476.7, 405], [656.7, 589]].forEach(p => {
  txt("log<sub>2</sub>(FC)", p[0], 296.7, { size: 6.4, color: "#333" });
  txt("−log<sub>10</sub>(p.value)", p[1], 171, { size: 6.4, rot: -90, color: "#333" });
});
[[359, 360.7, 373], [542.7, 544.5, 555.7], [726, 727, 740]].forEach(p => {
  txt("threshold", p[0], 152, { size: 6.4, left: true, color: "#333" });
  rect(p[1], 159, p[1] + 10, 194, "#F2F2F2");
  dot(p[1] + 5, 165, 1.2, "#F8766D");
  dot(p[1] + 5, 177, 1.2, "#00BFC4");
  dot(p[1] + 5, 188.5, 1.2, "#777");
  txt("FALSE", p[2], 165, { size: 5, left: true, color: "#333" });
  txt("TRUE", p[2], 177, { size: 5, left: true, color: "#333" });
  txt("NA", p[2], 188.5, { size: 5, left: true, color: "#333" });
});

const capText = { size: 11, font: CAL, color: "#222" };
txt("T24 h VS Control", 294, 311.7, capText);
txt("pvalue&lt;0.05,|log2FC|&gt;1", 293, 332.7, capText);
txt("T48 h VS Control", 476, 311.7, capText);
txt("pvalue&lt;0.05,|log2FC|&gt;1", 476, 332.7, capText);
txt("T48 h VS T 24 h", 662.3, 313.7, capText);
txt("pvalue&lt;0.05,|log2FC|&gt;1", 665, 334.3, capText);

/* ========== c: venn ========== */
plot({ l: 10, t: 410, r: 200, b: 600 }, {}, {
  type: "bubble",
  data: { datasets: [{
    data: vennX.map((x, i) => ({ x, y: vennY[i], r: vennR[i] })),
    backgroundColor: ["rgba(255,226,120,0.82)", "rgba(110,255,240,0.68)", "rgba(190,165,232,0.66)"],
    borderWidth: 0, clip: false
  }]},
  options: { scales: {
    x: { type: "linear", display: false, min: 10, max: 200 },
    y: { type: "linear", display: false, min: 410, max: 600, reverse: true }
  }},
  plugins: [dataText(vennCounts.map((t, i) => ({ t, x: vennCountX[i], y: vennCountY[i] })), `6px ${SANS}`, "#222")]
});
txt("T24hvsControl", 64, 414, { size: 4.8, color: "#444" });
txt("T48hvsControl", 153, 414, { size: 4.8, color: "#444" });
txt("T48hvsT24h", 108, 592, { size: 4.8, color: "#444" });

rect(198.3, 456.3, 277.3, 488, "#F4A07C");
rect(198.3, 513.3, 277.3, 545.3, "#14B8B0");
const boxText = { size: 10.5, font: CAL, color: "#1a2a2a" };
txt("Up regulated", 239, 462.7, boxText);
txt("6", 236.3, 482.7, boxText);
txt("Down regulated", 239, 520.3, boxText);
txt("178", 235.3, 540.3, boxText);

/* ========== d: heatmap ========== */
function zColor(v) {
  if (v >= 0) {
    const k = Math.round(255 * (1 - Math.min(v / 1.7, 1)));
    return `rgb(255,${k},${k})`;
  }
  if (v >= -1.5) {
    const k = Math.round(255 * (1 + v / 1.5));
    return `rgb(${k},${k},255)`;
  }
  const t = Math.min((-v - 1.5) / 0.5, 1);
  return `rgb(0,0,${Math.round(255 - 175 * t)})`;
}
const heatRect = { l: 311.7, t: 403.3, r: 476.5, b: 611.7 };
plot(heatRect, {}, {
  type: "bar",
  data: {
    labels: heatColumns,
    datasets: heatRows.map(row => ({
      data: row.map(() => 1),
      backgroundColor: row.map(zColor),
      borderWidth: 0, barPercentage: 1, categoryPercentage: 1, stack: "z"
    }))
  },
  options: { scales: {
    x: { type: "category", display: false, stacked: true },
    y: { type: "linear", display: false, stacked: true, min: 0, max: heatRows.length, reverse: true }
  }}
});
const colX = i => 311.7 + 18.31 * (i + 0.5);
heatColumns.forEach((n, i) => txt(n, colX(i), 623, { size: 4.4, rot: 90, color: "#333" }));

// dendrograms are drawn from the merge lists
const treeLine = merges => merges.flatMap(m => [
  { x: m[0], y: m[2] }, { x: m[0], y: m[4] }, { x: m[1], y: m[4] }, { x: m[1], y: m[3] }, { x: NaN, y: NaN }
]);
plot({ l: 311.7, t: 372, r: 476.5, b: 403.3 }, {}, {
  type: "line",
  data: { datasets: [seg(treeLine(heatTopMerges), "#777", 0.8)] },
  options: { scales: {
    x: { type: "linear", display: false, min: 0, max: 9 },
    y: { type: "linear", display: false, min: 0, max: 31.3 }
  }}
});
const rowTree = merges => merges.flatMap(m => [
  { x: m[2], y: m[0] }, { x: m[4], y: m[0] }, { x: m[4], y: m[1] }, { x: m[3], y: m[1] }, { x: NaN, y: NaN }
]);
plot({ l: 281, t: 403.3, r: 311.7, b: 611.7 }, {}, {
  type: "line",
  data: { datasets: [
    seg(rowTree(heatLeftMerges), "#777", 0.7),
    seg(rowTree(heatLeftComb.map(c => [c[0], c[1], 0, 0, c[2]])), "#555", 0.7)
  ]},
  options: { scales: {
    x: { type: "linear", display: false, min: 0, max: 30.7, reverse: true },
    y: { type: "linear", display: false, min: 0, max: heatRows.length, reverse: true }
  }}
});
rect(479, 403, 484, 484.7, "linear-gradient(#ff0000 0%,#ff0000 12%,#ffffff 50%,#3030ff 76%,#0000ff 82%,#000050 100%)");
[["2", 404], ["1", 423.5], ["0", 444], ["-1", 464], ["-2", 484]].forEach(k => txt(k[0], 487, k[1], { size: 3.8, left: true, color: "#333" }));

/* ========== e: GO dotplot ========== */
function padjColor(p) {
  if (p >= 0.7) return "#8585FF";
  if (p >= 0.5) return "#3FEF66";
  if (p >= 0.27) return "#C9CC4A";
  if (p >= 0.15) return "#DDAA3F";
  if (p >= 0.08) return "#FF5A22";
  if (p >= 0.04) return "#F23C2C";
  return "#FF1F1F";
}
const goR = c => 0.9 + 0.5 * Math.sqrt(c);
plot({ l: 620.3, t: 378, r: 728.7, b: 617 }, { l: 100, b: 8, t: 1, r: 6 }, {
  type: "bubble",
  data: { datasets: [{
    data: goRatio.map((x, i) => ({ x, y: i, r: goR(goCount[i]) })),
    backgroundColor: goPadj.map(padjColor), borderWidth: 0
  }]},
  options: { scales: {
    x: axis(0.0134, 0.1583, 0.02, 0.04, v => v.toFixed(2), { size: 3.8, major: "#e6e6e6", minor: "#f2f2f2" }),
    y: axis(-0.63, 29.55, 1, 1, v => goTerms[v], { size: 3.75, reverse: true, major: "#eeeeee", minor: "#eeeeee", color: "#555" })
  }},
  plugins: [frame("#999", 1)]
});
txt("GeneRatio", 674, 627.5, { size: 4.8, color: "#333" });
txt("Description", 537, 497, { size: 4.8, rot: -90, color: "#333" });
txt("Count", 736, 442.7, { size: 5, left: true, color: "#333" });
[["5", 452, 1.5], ["10", 461, 2.2], ["15", 470, 2.7], ["20", 479, 3], ["25", 488, 3.4]].forEach(k => {
  dot(740, k[1], k[2], "#000");
  txt(k[0], 746.7, k[1], { size: 3.9, left: true, color: "#333" });
});
txt("padj", 736, 506, { size: 5, left: true, color: "#333" });
const padjBar = "linear-gradient(#7a1f3a 0%,#8a2be2 8%,#7f7fff 22%,#33ff66 48%,#aaff44 62%,#ffbb33 80%,#ff2020 100%)";
rect(736.3, 511.3, 743.7, 556.7, padjBar);
[["1.00", 512.7], ["0.75", 523], ["0.50", 533.7], ["0.25", 544.3], ["0.00", 555]].forEach(k => txt(k[0], 746.7, k[1], { size: 3.9, left: true, color: "#333" }));

/* ========== f: KEGG dotplot ========== */
const keggR = c => 0.7 + 1.0 * Math.sqrt(c);
plot({ l: 87.3, t: 677.3, r: 199.3, b: 905.7 }, { l: 76, b: 8, t: 1, r: 8 }, {
  type: "bubble",
  data: { datasets: [{
    data: keggRatio.map((x, i) => ({ x, y: i, r: keggR(keggCount[i]) })),
    backgroundColor: keggPadj.map(padjColor), borderWidth: 0
  }]},
  options: { scales: {
    x: axis(0.0107, 0.125, 0.0125, 0.025, v => v.toFixed(3), { size: 3.8, major: "#e6e6e6", minor: "#f2f2f2" }),
    y: axis(-0.62, 19.57, 1, 1, v => keggTerms[v], { size: 3.9, reverse: true, major: "#eeeeee", minor: "#eeeeee", color: "#555" })
  }},
  plugins: [frame("#999", 1)]
});
txt("GeneRatio", 141, 916, { size: 4.8, color: "#333" });
txt("Description", 8, 792, { size: 4.8, rot: -90, color: "#333" });
txt("Count", 207, 743, { size: 5, left: true, color: "#333" });
[["2", 752.7, 1.8], ["4", 761, 2.5], ["6", 769.3, 3], ["8", 778, 3.5]].forEach(k => {
  dot(211, k[1], k[2], "#000");
  txt(k[0], 216.7, k[1], { size: 3.9, left: true, color: "#333" });
});
txt("padj", 207, 795.7, { size: 5, left: true, color: "#333" });
rect(207, 800.7, 214.3, 843.3, padjBar);
[["1.00", 801.7], ["0.75", 812], ["0.50", 822.3], ["0.25", 832.3], ["0.00", 842]].forEach(k => txt(k[0], 218.3, k[1], { size: 3.9, left: true, color: "#333" }));

/* ========== g: network ========== */
const nodeAt = n => nodeNames.indexOf(n);
plot({ l: 262, t: 690, r: 462, b: 905 }, {}, {
  type: "bubble",
  data: { datasets: [
    {
      type: "bubble",
      data: nodeX.map((x, i) => ({ x, y: nodeY[i], r: nodeR[i] })),
      backgroundColor: nodeColors.map(c => c + "D0"), borderWidth: 0, order: 1, clip: false
    },
    ...edges.map(e => seg(
      [{ x: nodeX[nodeAt(e[0])], y: nodeY[nodeAt(e[0])] }, { x: nodeX[nodeAt(e[1])], y: nodeY[nodeAt(e[1])] }],
      "#ABABAB", e[2], null, 2))
  ]},
  options: { scales: {
    x: { type: "linear", display: false, min: 262, max: 462 },
    y: { type: "linear", display: false, min: 690, max: 905, reverse: true }
  }},
  plugins: [dataText(nodeNames.map((t, i) => ({ t, x: nodeX[i], y: nodeY[i] })), `7.2px ${SANS}`, "#222")]
});
const legBold = { size: 5, weight: "bold", color: "#111" };
txt("Degree", 479.3, 767, legBold);
dot(475.7, 777, 1.7, "#000");
dot(475.7, 787, 2.6, "#000");
dot(475.7, 797.7, 3.4, "#000");
txt("Degree", 479.3, 809.3, legBold);
rect(475, 816, 478.7, 846.7, "linear-gradient(#3344dd 0%,#22cc66 30%,#aadd33 55%,#ffcc22 78%,#ff3333 100%)");
txt("Combined", 481.7, 857, legBold);
txt("score", 481.7, 865, legBold);

/* ========== g: degree bars ========== */
plot({ l: 559.7, t: 730, r: 761.3, b: 871 }, { l: 34, b: 18, t: 2, r: 8 }, {
  type: "bar",
  data: { labels: degreeGenes, datasets: [{ data: degreeValues, backgroundColor: "#7F7F7F", barThickness: 4.3 }] },
  options: {
    indexAxis: "y",
    scales: {
      x: {
        type: "linear", min: 0, max: 12,
        border: { color: "#c8c8c8" },
        ticks: { stepSize: 2, padding: 6, font: { size: 8.5, family: SERIF }, color: "#333", maxRotation: 0 },
        grid: { drawOnChartArea: false, tickLength: 3, tickColor: "#c8c8c8" }
      },
      y: {
        type: "category",
        border: { color: "#b8b8d0" },
        ticks: { padding: 4, font: { size: 8.5, family: SERIF }, color: "#222", autoSkip: false },
        grid: { drawOnChartArea: false, tickLength: 3, tickColor: "#999", offset: true }
      }
    }
  }
});
txt("Degree", 660.7, 901.7, { size: 8, font: SERIF, weight: "bold", color: "#222" });
rect(520.7, 776.2, 771.3, 777.2, "#F06060");

/* ========== connectors and wedges ========== */
const svgNS = "http://www.w3.org/2000/svg";
const svg = document.createElementNS(svgNS, "svg");
svg.setAttribute("width", 774);
svg.setAttribute("height", 920);
svg.style.cssText = "position:absolute;left:0;top:0;z-index:5";
const link = (a, b, c, d, col) => {
  const l = document.createElementNS(svgNS, "line");
  l.setAttribute("x1", a); l.setAttribute("y1", b); l.setAttribute("x2", c); l.setAttribute("y2", d);
  l.setAttribute("stroke", col); l.setAttribute("stroke-width", 0.8);
  svg.appendChild(l);
};
const wedge = p => {
  const w = document.createElementNS(svgNS, "polygon");
  w.setAttribute("points", p);
  svg.appendChild(w);
};
link(119.3, 485.7, 198.3, 456.6, "#7F6FA0");
link(119.3, 501, 198.3, 487.3, "#7F6FA0");
link(119.3, 485.7, 198.3, 513.3, "#6F6F90");
link(119.3, 501, 198.3, 545, "#6F6F90");
link(119.3, 485.7, 119.3, 501, "#555");
link(276.3, 456.3, 309, 406.7, "#666");
link(277.3, 486.7, 310, 408.3, "#666");
link(276, 513.3, 310, 411.7, "#666");
link(277.3, 545.3, 310.7, 611.7, "#666");
wedge("482.3,773 489,801 482.3,801");
wedge("482.3,816 489,847 482.3,847");
wedge("485,871.7 491.7,899 485,899");
[[875, 0.8, "#ccc"], [885, 1.3, "#b5a8a8"], [896.7, 3, "#aaa"]].forEach(k => {
  const l = document.createElementNS(svgNS, "line");
  l.setAttribute("x1", 472.3); l.setAttribute("y1", k[0]); l.setAttribute("x2", 482.3); l.setAttribute("y2", k[0]);
  l.setAttribute("stroke", k[2]); l.setAttribute("stroke-width", k[1]);
  svg.appendChild(l);
});
page.appendChild(svg);

/* ========== panel letters ========== */
const letter = { size: 17, font: SERIF, weight: "bold", color: "#111" };
txt("a", 6, 53, letter);
txt("b", 198, 48, letter);
txt("c", 10, 378, letter);
txt("d", 270, 378, letter);
txt("e", 522, 378, letter);
txt("f", 15, 670, letter);
txt("g", 267, 673, letter);
</script>
</body>
</html>
